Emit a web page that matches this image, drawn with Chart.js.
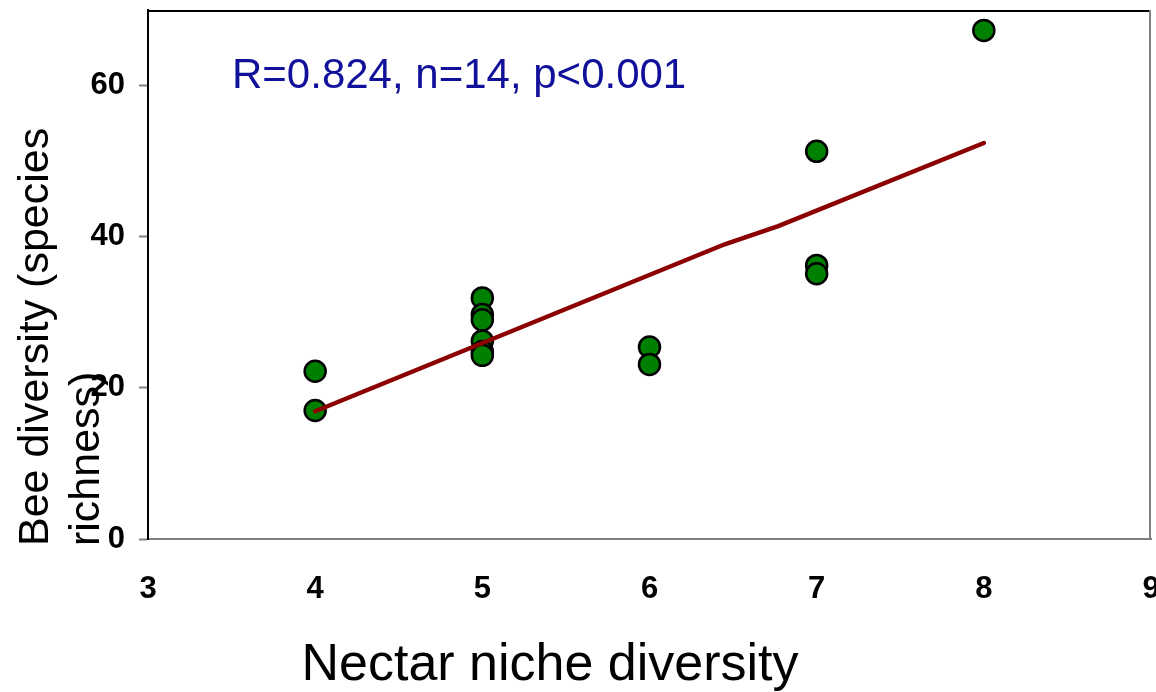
<!DOCTYPE html>
<html>
<head>
<meta charset="utf-8">
<script src="https://cdn.jsdelivr.net/npm/chart.js@4.4.1/dist/chart.umd.min.js"></script>
<style>
  html, body { margin: 0; background: #fff; overflow: hidden; }
  #wrap { width: 1164px; height: 695px; margin-top: -3px; }
</style>
</head>
<body>
<div id="wrap"><canvas id="beeChart"></canvas></div>
<script>
// nectar niche diversity vs. bee species richness per site
const nectarX = [4, 4, 5, 5, 5, 5, 5, 5, 6, 6, 7, 7, 7, 8];
const beeY = [22.2, 17.0, 31.9, 29.7, 29.0, 26.2, 24.8, 24.3, 25.4, 23.1, 51.3, 36.2, 35.1, 67.3];

// fitted regression line
const trendX = [4, 6.45, 6.77, 8];
const trendY = [16.9, 39.0, 41.4, 52.4];

const xTicks = [3, 4, 5, 6, 7, 8, 9];
const yTicks = [0, 20, 40, 60];

const statsText = 'R=0.824, n=14, p<0.001';
const xTitle = 'Nectar niche diversity';
const yTitle = ['Bee diversity (species', 'richness)'];

const FONT = "'Liberation Sans', Arial, sans-serif";

// frame, axis titles and the stats label
const decorations = {
  id: 'decorations',
  afterDraw(chart) {
    const ctx = chart.ctx;
    const a = chart.chartArea;
    ctx.save();
    // top (black) and right (gray) edges of the plot box
    ctx.lineWidth = 2;
    ctx.strokeStyle = '#000';
    ctx.beginPath();
    ctx.moveTo(a.left, a.top + 1);
    ctx.lineTo(a.right, a.top + 1);
    ctx.stroke();
    ctx.strokeStyle = '#808080';
    ctx.beginPath();
    ctx.moveTo(a.right - 1, a.top);
    ctx.lineTo(a.right - 1, a.bottom);
    ctx.stroke();

    // stats
    ctx.fillStyle = '#10109a';
    ctx.font = '42px ' + FONT;
    ctx.textAlign = 'left';
    ctx.textBaseline = 'alphabetic';
    ctx.fillText(statsText, 232, 91);

    // x title
    ctx.fillStyle = '#000';
    ctx.font = '52px ' + FONT;
    ctx.textAlign = 'center';
    ctx.fillText(xTitle, 550, 683);

    // y title, rotated, two lines
    ctx.font = '43px ' + FONT;
    ctx.textAlign = 'left';
    ctx.translate(0, 549);
    ctx.rotate(-Math.PI / 2);
    ctx.fillText(yTitle[0], 0, 48);
    ctx.fillText(yTitle[1], 0, 99);
    ctx.restore();
  }
};

// keep the plot box fixed, drop the end-label overflow padding
function fixX(s) {
  s.height = 153;
  s.paddingLeft = 0;
  s.paddingRight = 0;
}
function fixY(s) {
  s.width = 148;
  s.paddingTop = 0;
  s.paddingBottom = 0;
}

const ctx = document.getElementById('beeChart').getContext('2d');
new Chart(ctx, {
  data: {
    datasets: [{
      type: 'line',
      data: trendX.map((x, i) => ({ x: x, y: trendY[i] })),
      borderColor: '#8b0000',
      borderWidth: 4.5,
      borderCapStyle: 'round',
      pointRadius: 0,
      fill: false,
      tension: 0,
      order: 0
    }, {
      type: 'scatter',
      data: nectarX.map((x, i) => ({ x: x, y: beeY[i] })),
      backgroundColor: '#008000',
      borderColor: '#000',
      borderWidth: 2.5,
      pointRadius: 10.5,
      order: 1
    }]
  },
  options: {
    responsive: true,
    maintainAspectRatio: false,
    animation: false,
    layout: { padding: { top: 7, right: 0, left: 0, bottom: 0 } },
    plugins: {
      legend: { display: false },
      tooltip: { enabled: false }
    },
    scales: {
      x: {
        type: 'linear',
        min: 3,
        max: 9,
        afterFit: fixX,
        afterBuildTicks: s => { s.ticks = xTicks.map(v => ({ value: v })); },
        grid: { display: false, drawTicks: false },
        border: { display: true, color: '#808080', width: 2 },
        ticks: {
          padding: 32,
          color: '#000',
          font: { family: FONT, size: 31, weight: 'bold' }
        }
      },
      y: {
        min: 0,
        max: 70,
        afterFit: fixY,
        afterBuildTicks: s => { s.ticks = yTicks.map(v => ({ value: v })); },
        grid: {
          drawOnChartArea: false,
          drawTicks: true,
          tickLength: 9,
          tickWidth: 2,
          tickColor: '#808080'
        },
        border: { display: true, color: '#000', width: 2 },
        ticks: {
          padding: 14,
          color: '#000',
          font: { family: FONT, size: 31, weight: 'bold' }
        }
      }
    }
  },
  plugins: [decorations]
});
</script>
</body>
</html>
